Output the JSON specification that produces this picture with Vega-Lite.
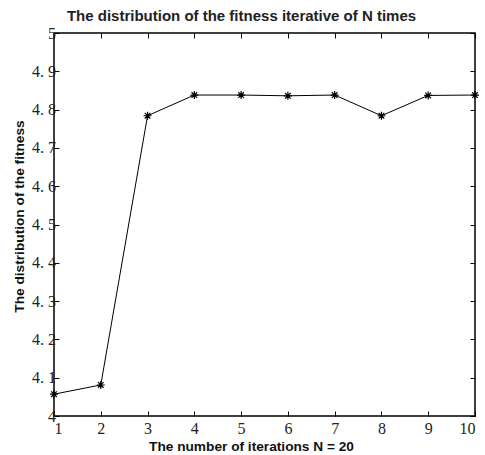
{
  "$schema": "https://vega.github.io/schema/vega-lite/v6.json",
  "width": 421,
  "height": 383,
  "autosize": {"type": "none"},
  "padding": {"left": 54, "top": 33, "right": 10, "bottom": 39},
  "background": "white",
  "config": {
    "view": {"stroke": "black", "strokeWidth": 1.5},
    "axis": {
      "domain": false,
      "grid": false,
      "tickColor": "black",
      "tickSize": -5,
      "tickWidth": 1,
      "labelFont": "Liberation Serif",
      "labelFontSize": 16,
      "labelColor": "#222",
      "titleFont": "Liberation Sans",
      "titleFontSize": 13.7,
      "titleFontWeight": "bold",
      "titleColor": "#111"
    }
  },
  "title": {
    "text": "The distribution of the fitness iterative of N times",
    "font": "Liberation Sans",
    "fontSize": 15,
    "fontWeight": "bold",
    "color": "#222",
    "anchor": "middle",
    "dx": -23,
    "offset": 1
  },
  "data": {
    "values": [
      {"n": 1, "fitness": 4.057},
      {"n": 2, "fitness": 4.081},
      {"n": 3, "fitness": 4.784},
      {"n": 4, "fitness": 4.838},
      {"n": 5, "fitness": 4.838},
      {"n": 6, "fitness": 4.836},
      {"n": 7, "fitness": 4.838},
      {"n": 8, "fitness": 4.784},
      {"n": 9, "fitness": 4.837},
      {"n": 10, "fitness": 4.838}
    ]
  },
  "layer": [
    {
      "mark": {"type": "line", "color": "black", "strokeWidth": 1},
      "encoding": {
        "x": {
          "field": "n", "type": "quantitative",
          "scale": {"domain": [1, 10], "nice": false, "zero": false},
          "axis": {
            "orient": "bottom",
            "values": [1, 2, 3, 4, 5, 6, 7, 8, 9, 10],
            "labelPadding": 9,
            "labelBaseline": "top",
            "title": "The number of iterations N = 20",
            "titleX": 197,
            "titleY": 34,
            "titleAlign": "center",
            "titleBaseline": "alphabetic"
          }
        },
        "y": {
          "field": "fitness", "type": "quantitative",
          "scale": {"domain": [4, 5], "nice": false, "zero": false},
          "axis": {
            "orient": "left",
            "values": [4, 4.1, 4.2, 4.3, 4.4, 4.5, 4.6, 4.7, 4.8, 4.9, 5],
            "labelExpr": "datum.value % 1 == 0 ? format(datum.value, 'd') : replace(format(datum.value, '.1f'), '.', '. ')",
            "labelPadding": 3.5,
            "title": "The distribution of the fitness",
            "titleAngle": -90,
            "titleX": -31,
            "titleY": 183,
            "titleAlign": "center",
            "titleBaseline": "alphabetic"
          }
        }
      }
    },
    {
      "mark": {
        "type": "point",
        "shape": "M-1,0L1,0M0,-1L0,1M-0.7,-0.7L0.7,0.7M-0.7,0.7L0.7,-0.7",
        "size": 64,
        "stroke": "black",
        "strokeWidth": 1.2,
        "filled": false,
        "opacity": 1
      },
      "encoding": {
        "x": {
          "field": "n", "type": "quantitative",
          "scale": {"domain": [1, 10], "nice": false, "zero": false},
          "axis": {"orient": "top", "values": [1, 2, 3, 4, 5, 6, 7, 8, 9, 10], "labels": false, "title": null}
        },
        "y": {
          "field": "fitness", "type": "quantitative",
          "scale": {"domain": [4, 5], "nice": false, "zero": false},
          "axis": {"orient": "right", "values": [4, 4.1, 4.2, 4.3, 4.4, 4.5, 4.6, 4.7, 4.8, 4.9, 5], "labels": false, "title": null}
        }
      }
    }
  ],
  "resolve": {"axis": {"x": "independent", "y": "independent"}}
}
